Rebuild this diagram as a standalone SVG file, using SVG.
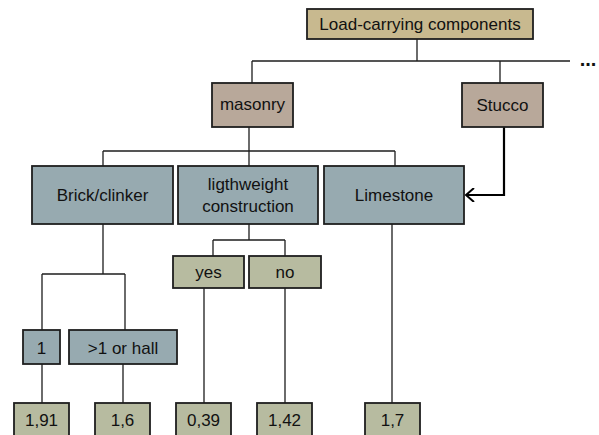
<svg xmlns="http://www.w3.org/2000/svg" width="599" height="435" viewBox="0 0 599 435">
<style>
.box{stroke:#1e1e1e;stroke-width:1.8}
.tan{fill:#c8b98f}
.mas{fill:#b8a89a}
.blu{fill:#97aab0}
.olv{fill:#b7bba0}
text{font-family:"Liberation Sans",Arial,sans-serif;font-size:17px;fill:#111;text-anchor:middle}
.c{fill:none;stroke:#1e1e1e;stroke-width:1.3}
.a{fill:none;stroke:#000;stroke-width:2.2}
.dots{font-size:20px;font-weight:bold}
</style>
<defs>
<marker id="arr" markerWidth="12" markerHeight="14" refX="10" refY="7" orient="auto" markerUnits="userSpaceOnUse">
<path d="M2,0 L10,7 L2,14" fill="none" stroke="#000" stroke-width="2"/>
</marker>
</defs>
<rect width="599" height="435" fill="#fff"/>
<g id="connectors">
<path class="c" d="M417,39 V61 M252,61 H570 M252,61 V83 M500,61 V83"/>
<path class="c" d="M249,127 V166 M103,151 H395 M103,151 V166 M395,151 V166"/>
<path class="c" d="M103,224 V274 M42,274 H125 M42,274 V330 M125,274 V330"/>
<path class="c" d="M249,224 V240 M213,240 H285 M213,240 V256 M285,240 V256"/>
<path class="c" d="M204,288 V403 M285,288 V403 M392,224 V403 M42,364 V403 M123,364 V403"/>
<path class="a" d="M504,127 V195 H466" marker-end="url(#arr)"/>
<text class="dots" x="588" y="66">...</text>
</g>
<g id="load"><rect class="box tan" x="307" y="9" width="226" height="30"/><text x="420" y="30">Load-carrying components</text></g>
<g id="masonry"><rect class="box mas" x="212" y="83" width="81" height="44"/><text x="252.5" y="110">masonry</text></g>
<g id="stucco"><rect class="box mas" x="462" y="83" width="81" height="44"/><text x="502.5" y="111">Stucco</text></g>
<g id="brick"><rect class="box blu" x="32" y="166" width="141" height="58"/><text x="102.5" y="201">Brick/clinker</text></g>
<g id="lightweight"><rect class="box blu" x="178" y="166" width="140" height="58"/><text x="248" y="190">ligthweight</text><text x="248" y="212">construction</text></g>
<g id="limestone"><rect class="box blu" x="324" y="166" width="140" height="58"/><text x="394" y="201">Limestone</text></g>
<g id="yes"><rect class="box olv" x="173" y="256" width="71" height="32"/><text x="208.5" y="278">yes</text></g>
<g id="no"><rect class="box olv" x="249" y="256" width="72" height="32"/><text x="285" y="278">no</text></g>
<g id="one"><rect class="box blu" x="23" y="330" width="37" height="34"/><text x="41.5" y="354">1</text></g>
<g id="gt1"><rect class="box blu" x="69" y="330" width="108" height="34"/><text x="123" y="354">&gt;1 or hall</text></g>
<g id="v191"><rect class="box olv" x="14" y="403" width="55" height="40"/><text x="41.5" y="426">1,91</text></g>
<g id="v16"><rect class="box olv" x="95" y="403" width="55" height="40"/><text x="122.5" y="426">1,6</text></g>
<g id="v039"><rect class="box olv" x="176" y="403" width="55" height="40"/><text x="203.5" y="426">0,39</text></g>
<g id="v142"><rect class="box olv" x="257" y="403" width="55" height="40"/><text x="284.5" y="426">1,42</text></g>
<g id="v17"><rect class="box olv" x="365" y="403" width="55" height="40"/><text x="392.5" y="426">1,7</text></g>
</svg>
